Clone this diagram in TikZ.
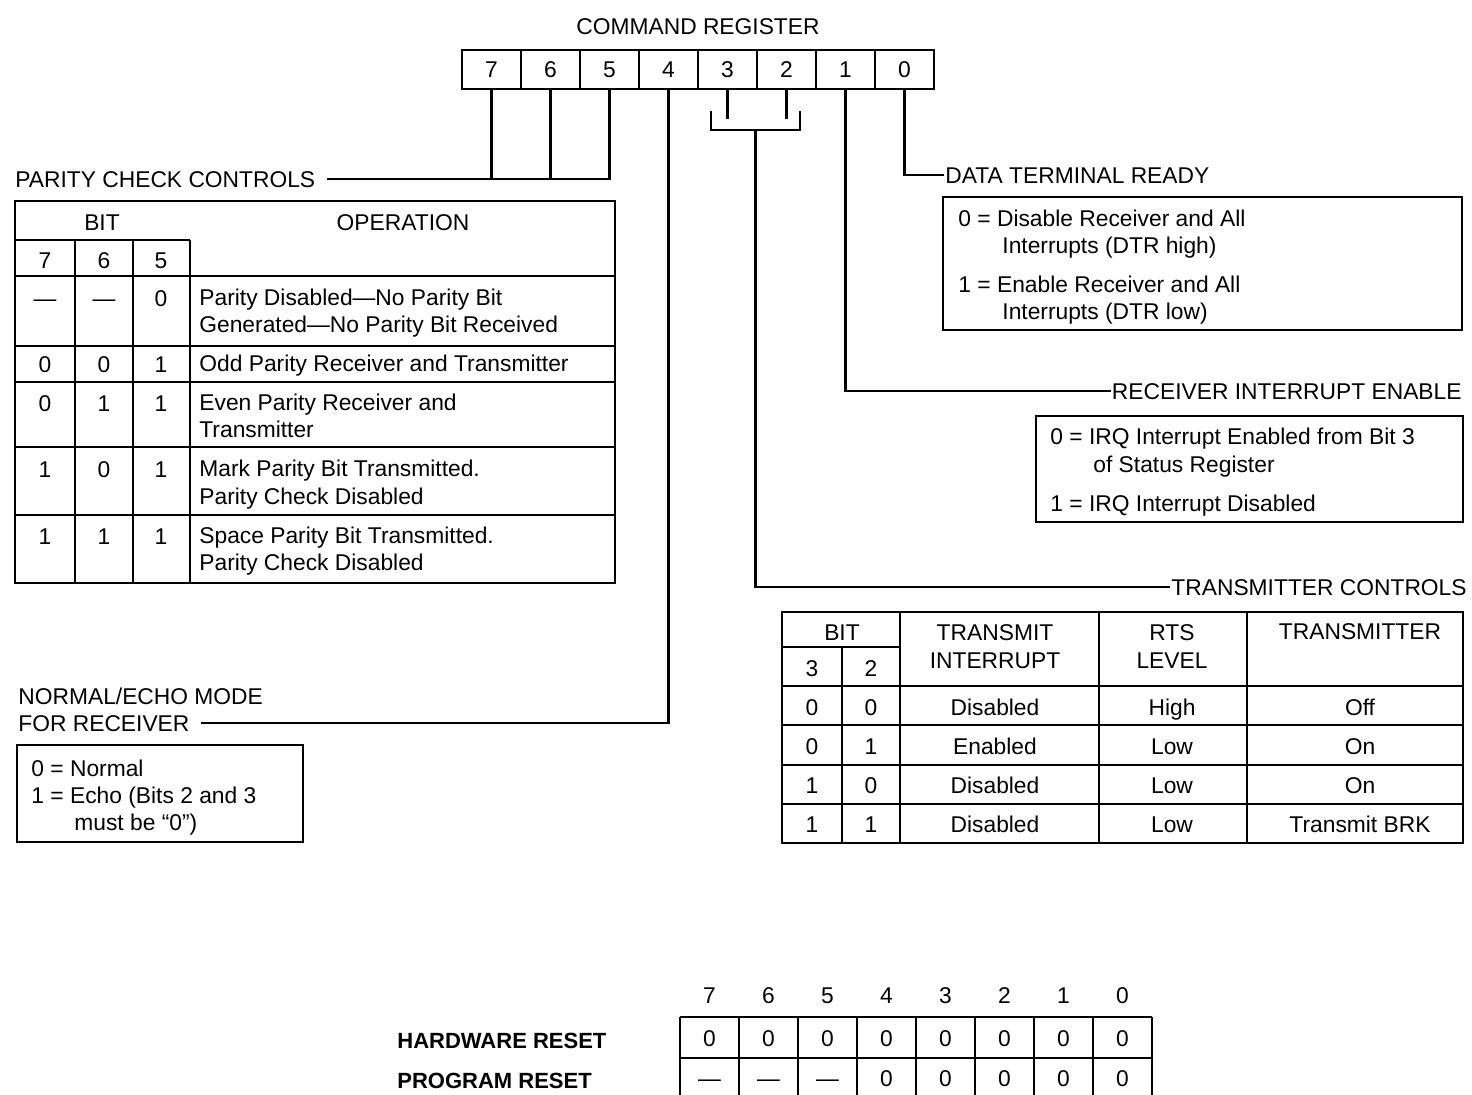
\documentclass[tikz,border=0pt]{standalone}
\usepackage{fontspec}
\setmainfont{Liberation Sans}
\newcommand\diagfont{\fontsize{11.4}{13}\selectfont}
\newcommand\diagboldfont{\fontsize{11}{13}\selectfont\bfseries}
\begin{document}
\begin{tikzpicture}[x=0.5pt,y=-0.5pt, line width=1.4pt,
  txt/.style={inner sep=0pt, text height=8.2pt, text depth=0pt, font=\diagfont},
  lft/.style={txt, anchor=west},
  rgt/.style={txt, anchor=east},
  cell/.style={txt, draw, minimum width=29.5pt, minimum height=19.5pt},
  boldlbl/.style={lft, font=\diagboldfont}]
\useasboundingbox (0,0) rectangle (1472,1094);
\fill[white] (0,0) rectangle (1472,1094);

% ---------- command register ----------
\node[txt] (cmdreg) at (698,26) {COMMAND REGISTER};
\foreach \b [count=\i from 0] in {7,6,5,4,3,2,1,0}
  \node[cell] (r\b) at ({491.5+59*\i},69.5) {\b};

% ---------- labels of the fields ----------
\node[lft] (pcc) at (14,179) {PARITY CHECK CONTROLS};
\node[lft] (dtr) at (944,175) {DATA TERMINAL READY};
\node[rgt] (rie) at (1463,391) {RECEIVER INTERRUPT ENABLE};
\node[rgt] (tcl) at (1468,587) {TRANSMITTER CONTROLS};
\node[lft] (nem1) at (17,696) {NORMAL/ECHO MODE};
\node[lft] (nem2) at (17,723) {FOR RECEIVER};

% ---------- connectors ----------
\draw (r5.south) |- ([xshift=5pt]pcc.east);
\draw (r7.south) -- (r7.south |- pcc.east);
\draw (r6.south) -- (r6.south |- pcc.east);
\draw (r4.south) |- ([xshift=5pt]nem2.east);
\coordinate (brl) at (711,111);
\coordinate (brr) at (800,111);
\coordinate (brc) at (755.5,130);
\draw (r3.south) -- ++(0,29);
\draw (r2.south) -- ++(0,29);
\draw (brl) -- (brl |- brc) -- (brr |- brc) -- (brr);
\draw (brc) |- (tcl.west);
\draw (r1.south) |- (rie.west);
\draw (r0.south) |- (dtr.west);

% ---------- parity table ----------
\draw (15,201) rectangle (615,583);
\draw (15,240) -- (190,240);
\foreach \y in {276,346,382,447,515} \draw (15,\y) -- (615,\y);
\foreach \x in {75,133} \draw (\x,240) -- (\x,583);
\draw (190,240) -- (190,583);
\node[txt] (pbit) at (102,222) {BIT};
\node[txt] (pop) at (403,222) {OPERATION};
\node[txt] (ph7) at (45,260) {7};
\node[txt] (ph6) at (104,260) {6};
\node[txt] (ph5) at (161,260) {5};
\node[txt] (pa7) at (45,298) {---};
\node[txt] (pa6) at (104,298) {---};
\node[txt] (pa5) at (161,298) {0};
\node[txt] (pb7) at (45,364) {0};
\node[txt] (pb6) at (104,364) {0};
\node[txt] (pb5) at (161,364) {1};
\node[txt] (pc7) at (45,403) {0};
\node[txt] (pc6) at (104,403) {1};
\node[txt] (pc5) at (161,403) {1};
\node[txt] (pd7) at (45,469) {1};
\node[txt] (pd6) at (104,469) {0};
\node[txt] (pd5) at (161,469) {1};
\node[txt] (pe7) at (45,536) {1};
\node[txt] (pe6) at (104,536) {1};
\node[txt] (pe5) at (161,536) {1};
\node[lft] (poa1) at (198,297) {Parity Disabled---No Parity Bit};
\node[lft] (poa2) at (198,324) {Generated---No Parity Bit Received};
\node[lft] (pob1) at (198,363) {Odd Parity Receiver and Transmitter};
\node[lft] (poc1) at (198,402) {Even Parity Receiver and};
\node[lft] (poc2) at (198,429) {Transmitter};
\node[lft] (pod1) at (198,468) {Mark Parity Bit Transmitted.};
\node[lft] (pod2) at (198,496) {Parity Check Disabled};
\node[lft] (poe1) at (198,535) {Space Parity Bit Transmitted.};
\node[lft] (poe2) at (198,562) {Parity Check Disabled};

% ---------- DTR box ----------
\draw (943,197) rectangle (1462,330);
\node[lft] (dtra1) at (957,218) {0 = Disable Receiver and All};
\node[lft] (dtra2) at (1001,245) {Interrupts (DTR high)};
\node[lft] (dtrb1) at (957,284) {1 = Enable Receiver and All};
\node[lft] (dtrb2) at (1001,311) {Interrupts (DTR low)};

% ---------- RIE box ----------
\draw (1036,416) rectangle (1463,522);
\node[lft] (riea1) at (1049,436) {0 = IRQ Interrupt Enabled from Bit 3};
\node[lft] (riea2) at (1092,464) {of Status Register};
\node[lft] (rieb1) at (1049,503) {1 = IRQ Interrupt Disabled};

% ---------- transmitter table ----------
\draw (782,612) rectangle (1463,843);
\draw (782,647) -- (900,647);
\foreach \y in {686,725,765,804} \draw (782,\y) -- (1463,\y);
\draw (842,647) -- (842,843);
\foreach \x in {900,1099,1247} \draw (\x,612) -- (\x,843);
\node[txt] (tbit) at (842,632) {BIT};
\node[txt] (th3) at (812,668) {3};
\node[txt] (th2) at (871,668) {2};
\node[txt] (tti1) at (995,632) {TRANSMIT};
\node[txt] (tti2) at (995,660) {INTERRUPT};
\node[txt] (trl1) at (1172,632) {RTS};
\node[txt] (trl2) at (1172,660) {LEVEL};
\node[txt] (ttx) at (1360,631) {TRANSMITTER};
\foreach \y/\a/\b/\c/\d/\e [count=\k] in
  {707/0/0/Disabled/High/Off, 746/0/1/Enabled/Low/On,
   785/1/0/Disabled/Low/On, 824/1/1/Disabled/Low/Transmit BRK} {
  \node[txt] (tr\k a) at (812,\y) {\a};
  \node[txt] (tr\k b) at (871,\y) {\b};
  \node[txt] (tr\k c) at (995,\y) {\c};
  \node[txt] (tr\k d) at (1172,\y) {\d};
  \node[txt] (tr\k e) at (1360,\y) {\e};
}

% ---------- echo box ----------
\draw (17,745) rectangle (303,842);
\node[lft] (ecoa) at (30,768) {0 = Normal};
\node[lft] (ecob1) at (30,795) {1 = Echo (Bits 2 and 3};
\node[lft] (ecob2) at (73,822) {must be “0”)};

% ---------- reset table ----------
\foreach \b [count=\i from 0] in {7,6,5,4,3,2,1,0}
  \node[txt] (rh\b) at ({709.5+59*\i},995) {\b};
\draw (680,1017) -- (1152,1017);
\draw (680,1058) -- (1152,1058);
\foreach \i in {0,...,8} \draw ({680+59*\i},1017) -- ({680+59*\i},1100);
\node[boldlbl] (hwr) at (396,1040) {HARDWARE RESET};
\node[boldlbl] (pgr) at (396,1080) {PROGRAM RESET};
\foreach \v [count=\i from 0] in {0,0,0,0,0,0,0,0}
  \node[txt] (hv\i) at ({709.5+59*\i},1038) {\v};
\foreach \v [count=\i from 0] in {---,---,---,0,0,0,0,0}
  \node[txt] (pv\i) at ({709.5+59*\i},1078) {\v};
\end{tikzpicture}
\end{document}
